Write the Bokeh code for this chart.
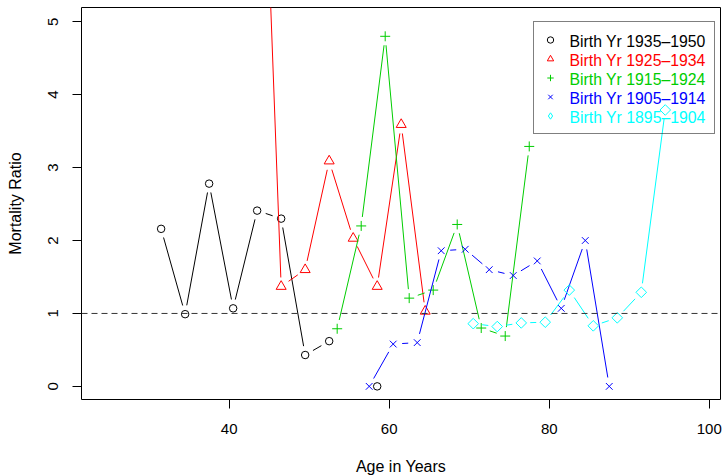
import numpy as np
from bokeh.plotting import figure
from bokeh.models import (Span, Legend, LegendItem, FixedTicker, Range1d,
                          ColumnDataSource, Label)
from bokeh.embed import file_html
from bokeh.resources import INLINE

nan = float("nan")

# ---- data ----
labels = ["Birth Yr 1935\u20131950", "Birth Yr 1925\u20131934", "Birth Yr 1915\u20131924",
          "Birth Yr 1905\u20131914", "Birth Yr 1895\u20131904"]

age_1935 = [31.5, 34.5, 37.5, 40.5, 43.5, 46.5, 49.5, 52.5, 55.5, 58.5]
ratio_1935 = [2.16, 0.99, 2.78, 1.07, 2.41, 2.30, 0.43, 0.62, nan, 0.0]

age_1925 = [43.5, 46.5, 49.5, 52.5, 55.5, 58.5, 61.5, 64.5]
ratio_1925 = [10.2, 1.37, 1.60, 3.09, 2.03, 1.37, 3.59, 1.03]

age_1915 = [53.5, 56.5, 59.5, 62.5, 65.5, 68.5, 71.5, 74.5, 77.5]
ratio_1915 = [0.79, 2.20, 4.80, 1.21, 1.32, 2.22, 0.80, 0.69, 3.29]

age_1905 = [57.5, 60.5, 63.5, 66.5, 69.5, 72.5, 75.5, 78.5, 81.5, 84.5, 87.5]
ratio_1905 = [0.0, 0.58, 0.60, 1.86, 1.88, 1.60, 1.52, 1.72, 1.07, 2.00, 0.0]

age_1895 = [70.5, 73.5, 76.5, 79.5, 82.5, 85.5, 88.5, 91.5, 94.5]
ratio_1895 = [0.86, 0.82, 0.87, 0.88, 1.32, 0.83, 0.94, 1.29, 3.79]

x_ticks = [40, 60, 80, 100]
y_ticks = [0, 1, 2, 3, 4, 5]
reference_level = 1

# ---- styling / layout ----
colors = ["#000000", "#FF0000", "#00CD00", "#0000FF", "#00FFFF"]
markers = ["circle", "triangle", "cross", "x", "square"]
legend_markers = ["circle", "triangle", "cross", "x", "diamond"]
sizes = [7.5, 10, 10, 9.5, 7.5]
angles = [0, 0, 0, 0, np.pi / 4]

X_RANGE = (21.55, 101.4)
Y_RANGE = (-0.18, 5.195)
FW, FH = 639, 392
GAP = 9.0  # px gap between points and connecting lines (R type="b")
FONT = "Liberation Sans"

sx = FW / (X_RANGE[1] - X_RANGE[0])
sy = FH / (Y_RANGE[1] - Y_RANGE[0])


def gapped(xs, ys):
    d = dict(x0=[], y0=[], x1=[], y1=[])
    for i in range(len(xs) - 1):
        a, b = ys[i], ys[i + 1]
        if np.isnan(a) or np.isnan(b):
            continue
        ddx, ddy = xs[i + 1] - xs[i], b - a
        L = np.hypot(ddx * sx, ddy * sy)
        if L <= 2 * GAP:
            continue
        f = GAP / L
        d["x0"].append(xs[i] + ddx * f)
        d["y0"].append(a + ddy * f)
        d["x1"].append(xs[i + 1] - ddx * f)
        d["y1"].append(b - ddy * f)
    return d


p = figure(frame_width=FW, frame_height=FH,
           x_range=Range1d(*X_RANGE), y_range=Range1d(*Y_RANGE),
           output_backend="svg", toolbar_location=None,
           min_border_left=81, min_border_right=4, min_border_top=7,
           min_border_bottom=77)
p.background_fill_color = "white"
p.border_fill_color = "white"
p.xgrid.visible = False
p.ygrid.visible = False
p.outline_line_color = "black"
p.outline_line_width = 1
p.outline_line_alpha = 1

for ax in (p.xaxis[0], p.yaxis[0]):
    ax.axis_line_color = None
    ax.major_tick_in = 0
    ax.major_tick_out = 9
    ax.minor_tick_out = 0
    ax.minor_tick_in = 0
    ax.major_tick_line_color = "black"
    ax.major_label_text_font = FONT
    ax.major_label_text_font_size = "15px"
    ax.major_label_text_color = "black"
    ax.axis_label_text_font = FONT
    ax.axis_label_text_font_size = "16px"
    ax.axis_label_text_font_style = "normal"
    ax.axis_label_text_color = "black"

p.xaxis.ticker = FixedTicker(ticks=x_ticks)
p.yaxis.ticker = FixedTicker(ticks=y_ticks)
p.xaxis.axis_label = "Age in Years"
p.yaxis.axis_label = "Mortality Ratio"
p.xaxis.major_label_standoff = 15
p.xaxis.axis_label_standoff = 21
p.yaxis.major_label_orientation = "vertical"
p.yaxis.major_label_standoff = 14
p.yaxis.axis_label_standoff = 22

p.add_layout(Span(location=reference_level, dimension="width", line_color="#333333",
                  line_width=1, line_dash="6 4"))

series = [(age_1935, ratio_1935), (age_1925, ratio_1925), (age_1915, ratio_1915),
          (age_1905, ratio_1905), (age_1895, ratio_1895)]

items = []
for (xs, ys), c, m, lm, s, a, lab in zip(series, colors, markers, legend_markers,
                                          sizes, angles, labels):
    p.segment(x0="x0", y0="y0", x1="x1", y1="y1",
              source=ColumnDataSource(gapped(xs, ys)), line_color=c, line_width=1)
    r = p.scatter(x=xs, y=ys, marker=m, size=s, angle=a, line_color=c,
                  fill_color=None, line_width=1)
    if lm != m:
        # legend-only key (legend swatches ignore the marker angle)
        r = p.scatter(x=xs, y=ys, marker=lm, size=s, line_color=c,
                      fill_color=None, line_width=1, visible=False)
    items.append(LegendItem(label=lab, renderers=[r]))

LEG_X, LEG_Y = 452, 265
PAD, GW, GH, STANDOFF = 8, 16, 19, 12
LEG_FONT_SIZE = "15.8px"
legend = Legend(items=items, location=(LEG_X, LEG_Y), orientation="vertical",
                padding=PAD, spacing=0, glyph_width=GW, glyph_height=GH,
                label_height=GH, label_standoff=STANDOFF,
                label_text_font=FONT, label_text_font_size=LEG_FONT_SIZE,
                label_text_alpha=0, border_line_color="black", border_line_width=1,
                background_fill_alpha=0, margin=0, click_policy="none")
p.add_layout(legend)

top = LEG_Y + 2 * PAD + GH * len(labels)
for i, (lab, c) in enumerate(zip(labels, colors)):
    p.add_layout(Label(x=LEG_X + PAD + GW + STANDOFF, y=top - PAD - GH / 2 - GH * i,
                       x_units="screen", y_units="screen", text=lab,
                       text_color=c, text_font=FONT, text_font_size=LEG_FONT_SIZE,
                       text_baseline="middle", text_align="left"))

open("out.html", "w").write(file_html(p, INLINE))
